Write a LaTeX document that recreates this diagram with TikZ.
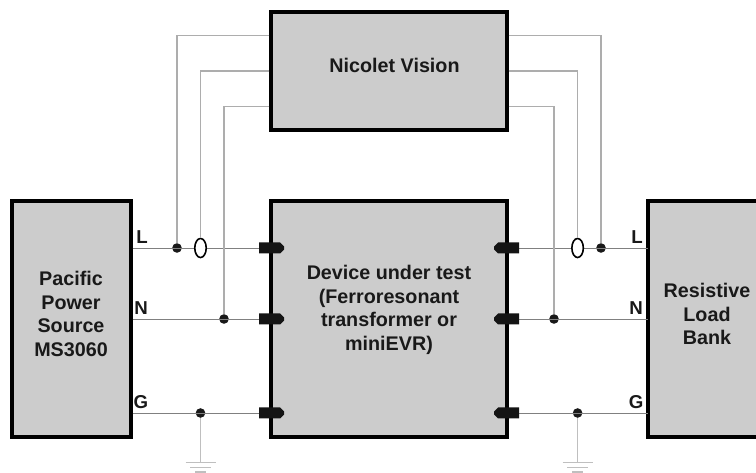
\documentclass[tikz,border=0pt]{standalone}
\usepackage{fontspec}
\setmainfont{Liberation Sans}
\usetikzlibrary{shapes.geometric}
\definecolor{boxfill}{HTML}{CCCCCC}
\begin{document}
\begin{tikzpicture}[x=0.75pt,y=-0.75pt,
  box/.style={draw=black,line width=2.3pt,fill=boxfill,rectangle,inner sep=0pt},
  boxtext/.style={align=center,inner sep=0pt,font=\bfseries\fontsize{14.8}{17.8}\selectfont,text=black!90},
  wire/.style={draw=black!50,line width=0.7pt},
  sense/.style={draw=black!32,line width=0.8pt},
  earth/.style={draw=black!25,line width=0.9pt},
  junction/.style={circle,fill=black!90,inner sep=0pt,minimum size=7.2pt},
  ct/.style={ellipse,draw=black,line width=1.2pt,fill=white,inner sep=0pt,minimum width=8.6pt,minimum height=14.3pt},
  termshape/.style={fill=black!92},
  lab/.style={font=\bfseries\fontsize{14}{16}\selectfont,inner sep=0pt,text=black!90}]
\useasboundingbox (0,0) rectangle (756,473);
% coordinates of terminals and free ends
\coordinate (tLl) at (259,248);
\coordinate (tNl) at (259,319);
\coordinate (tGl) at (259,413);
\coordinate (tLr) at (519,248);
\coordinate (tNr) at (519,319);
\coordinate (tGr) at (519,413);
\coordinate (s1) at (0,35.5);
\coordinate (s2) at (0,71);
\coordinate (s3) at (0,106.7);
\coordinate (eartha) at (200.5,462.5);
\coordinate (earthb) at (577.6,462.5);
% boxes
\node[box,minimum width=177pt,minimum height=88.5pt] (nic) at (389,71) {};
\node[box,minimum width=177pt,minimum height=177pt] (dut) at (389,319) {};
\node[box,minimum width=89.25pt,minimum height=177pt] (pac) at (71.5,319) {};
\node[fill=boxfill,inner sep=0pt,outer sep=0pt,minimum width=81pt,minimum height=177pt] (load) at (702,319) {};
\draw[black,line width=2.3pt] (756,201) -- (648,201) -- (648,437) -- (756,437);
% box texts
\node[boxtext] (nictext) at (394.5,65) {Nicolet Vision};
\node[boxtext] (duttext) at (389,310) {Device under test\\(Ferroresonant\\transformer or\\miniEVR)};
\node[boxtext] (pactext) at (71,314) {Pacific\\Power\\Source\\MS3060};
\node[boxtext] (loadtext) at (707,314) {Resistive\\Load\\Bank};
% junctions and current transformers
\node[junction] (jLl) at (177,248) {};
\node[junction] (jNl) at (224,319) {};
\node[junction] (jGl) at (200.5,413) {};
\node[junction] (jLr) at (601,248) {};
\node[junction] (jNr) at (554,319) {};
\node[junction] (jGr) at (577.6,413) {};
% wires
\draw[wire] (pac.east |- tLl) -- (tLl);
\draw[wire] (pac.east |- tNl) -- (tNl);
\draw[wire] (pac.east |- tGl) -- (tGl);
\draw[wire] (tLr) -- (tLr -| load.west);
\draw[wire] (tNr) -- (tNr -| load.west);
\draw[wire] (tGr) -- (tGr -| load.west);
\node[ct] (ctl) at (200.5,248) {};
\node[ct] (ctr) at (577.6,248) {};
% sense leads
\draw[sense] (nic.west |- s1) -| (jLl);
\draw[sense] (nic.west |- s2) -| (ctl);
\draw[sense] (nic.west |- s3) -| (jNl);
\draw[sense] (nic.east |- s1) -| (jLr);
\draw[sense] (nic.east |- s2) -| (ctr);
\draw[sense] (nic.east |- s3) -| (jNr);
% earth
\draw[earth] (jGl) -- (eartha);
\draw[earth] (jGr) -- (earthb);
\foreach \e in {eartha,earthb}{
  \draw[earth] ([shift={(-15,0)}]\e) -- ([shift={(15,0)}]\e);
  \draw[earth] ([shift={(-10.5,5)}]\e) -- ([shift={(10.5,5)}]\e);
  \draw[earth] ([shift={(-5.5,9.5)}]\e) -- ([shift={(5.5,9.5)}]\e);
}
% terminals
\foreach \t in {tLl,tNl,tGl}{
  \fill[termshape] ([shift={(0,-5.5)}]\t) -- ++(21,0) -- ++(4,4) -- ++(0,3) -- ++(-4,4) -- ++(-21,0) -- cycle;
}
\foreach \t in {tLr,tNr,tGr}{
  \fill[termshape] ([shift={(0,-5.5)}]\t) -- ++(-21,0) -- ++(-4,4) -- ++(0,3) -- ++(4,4) -- ++(21,0) -- cycle;
}
% labels
\node[lab] (lL) at (142,237) {L};
\node[lab] (lN) at (141,308) {N};
\node[lab] (lG) at (141,402) {G};
\node[lab] (rL) at (637,237) {L};
\node[lab] (rN) at (636,308) {N};
\node[lab] (rG) at (636,402) {G};
\end{tikzpicture}
\end{document}
